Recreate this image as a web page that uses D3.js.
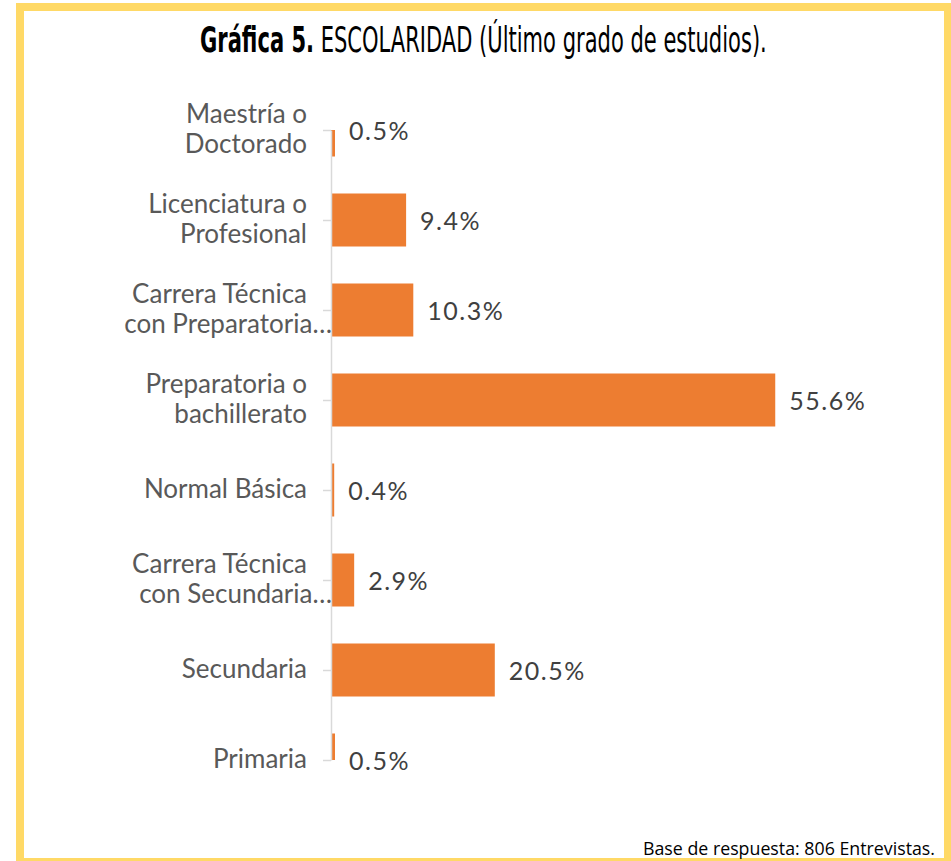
<!DOCTYPE html>
<html>
<head>
<meta charset="utf-8">
<script src="https://cdn.jsdelivr.net/npm/d3@7"></script>
<style>
  body { margin: 0; background: #fff; }
  svg { display: block; }
</style>
</head>
<body>
<script>
// data
const categories = ["Maestría o Doctorado", "Licenciatura o Profesional", "Carrera Técnica con Preparatoria…",
  "Preparatoria o bachillerato", "Normal Básica", "Carrera Técnica con Secundaria…", "Secundaria", "Primaria"];
const labelLines = [["Maestría o", "Doctorado"], ["Licenciatura o", "Profesional"], ["Carrera Técnica", "con Preparatoria…"],
  ["Preparatoria o", "bachillerato"], ["Normal Básica"], ["Carrera Técnica", "con Secundaria…"], ["Secundaria"], ["Primaria"]];
const values = [0.5, 9.4, 10.3, 55.6, 0.4, 2.9, 20.5, 0.5];

const W = 951, H = 861;
const svg = d3.select("body").append("svg").attr("width", W).attr("height", H);

// yellow frame
svg.append("rect").attr("x", 20).attr("y", 7).attr("width", 928).attr("height", 855)
  .attr("fill", "none").attr("stroke", "#FFD966").attr("stroke-width", 8);

// title (condensed look: measure then squeeze to the reference width)
const title = svg.append("text")
  .attr("x", 0).attr("y", 52)
  .style("font-family", "'Liberation Sans Narrow', 'DejaVu Sans Condensed', sans-serif")
  .style("font-size", "36px")
  .attr("fill", "#000");
title.append("tspan").style("font-weight", "bold").text("Gráfica 5.");
title.append("tspan").text(" ESCOLARIDAD (Último grado de estudios).");
const tw = title.node().getComputedTextLength();
const titleLeft = 200, titleRight = 767;
title.attr("transform", "translate(" + titleLeft + ",0) scale(" + ((titleRight - titleLeft) / tw) + ",1)");

// scales
const x = d3.scaleLinear().domain([0, 60]).range([331, 331 + 60 * 7.99]);
const y = d3.scalePoint().domain(categories).range([130, 760]);
const barH = 53;

svg.append("clipPath").attr("id", "plotclip")
  .append("rect").attr("x", x(0)).attr("y", 130).attr("width", 600).attr("height", 630);

svg.append("g").attr("clip-path", "url(#plotclip)")
  .selectAll("rect")
  .data(values)
  .enter()
  .append("rect")
  .attr("x", x(0))
  .attr("y", (d, i) => y(categories[i]) - barH / 2)
  .attr("width", d => x(d) - x(0))
  .attr("height", barH)
  .attr("fill", "#ED7D31");

// category axis
const yAxis = svg.append("g")
  .attr("transform", "translate(" + x(0) + ",0)")
  .call(d3.axisLeft(y).tickSize(8).tickFormat("").tickSizeOuter(0));
yAxis.select(".domain").attr("stroke", "#D9D9D9").attr("stroke-width", 1.5);
yAxis.selectAll(".tick line").attr("stroke", "#D9D9D9").attr("stroke-width", 1.5);

// category labels
const labels = svg.append("g")
  .style("font-family", "Lato, 'Noto Sans', sans-serif")
  .style("font-size", "26px")
  .attr("fill", "#595959")
  .attr("text-anchor", "end");
labelLines.forEach((lines, i) => {
  const cy = y(categories[i]);
  lines.forEach((ln, j) => {
    const dy = lines.length === 1 ? 8 : (j === 0 ? -7 : 23);
    labels.append("text")
      .attr("x", ln.endsWith("…") ? 332 : 307)
      .attr("y", cy + dy)
      .text(ln);
  });
});

// value labels
svg.append("g")
  .style("font-family", "Lato, 'Noto Sans', sans-serif")
  .style("font-size", "25px")
  .style("letter-spacing", "1.5px")
  .attr("fill", "#404040")
  .selectAll("text")
  .data(values)
  .enter()
  .append("text")
  .attr("x", d => x(d) + 14)
  .attr("y", (d, i) => y(categories[i]) + 10)
  .text(d => d.toFixed(1) + "%");

// footer
svg.append("text")
  .attr("x", 643).attr("y", 855)
  .attr("textLength", 292).attr("lengthAdjust", "spacingAndGlyphs")
  .style("font-family", "'Open Sans', 'Liberation Sans', sans-serif")
  .style("font-size", "18px")
  .attr("fill", "#000")
  .text("Base de respuesta: 806 Entrevistas.");
</script>
</body>
</html>
